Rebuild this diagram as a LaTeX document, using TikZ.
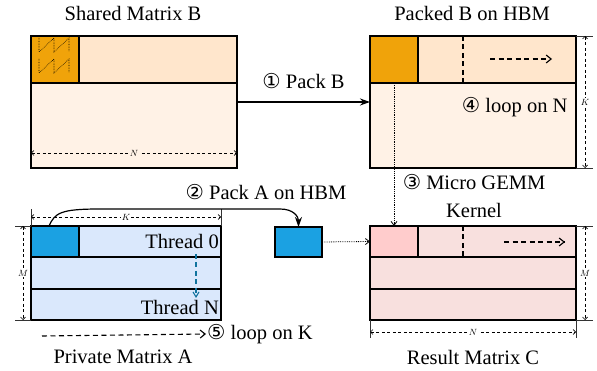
\documentclass[tikz,border=0pt]{standalone}
\usepackage{fontspec}
\setmainfont{Liberation Serif}
\newfontfamily\circfont{DejaVu Sans}
\usetikzlibrary{arrows.meta,positioning}
\newcommand{\cnum}[1]{{\circfont #1}}
\definecolor{orangeB}{HTML}{F0A30A}
\definecolor{peachB}{HTML}{FFE6CC}
\definecolor{creamB}{HTML}{FFF2E6}
\definecolor{blueA}{HTML}{1BA1E2}
\definecolor{paleA}{HTML}{DAE8FC}
\definecolor{pinkC}{HTML}{FFCCCC}
\definecolor{paleC}{HTML}{F8E0DE}
\definecolor{loopA}{HTML}{10739E}
\begin{document}
\begin{tikzpicture}[x=1pt, y=-1pt,
  every node/.style={font=\fontsize{20.5}{24}\selectfont},
  cell/.style={draw, line width=1.5pt, inner sep=0pt, outer sep=0pt, anchor=north west},
  dim/.style={dash pattern=on 3pt off 2.5pt, line width=0.7pt, {Straight Barb[length=2.5pt,width=5pt]}-{Straight Barb[length=2.5pt,width=5pt]}},
  dimlab/.style={font=\fontsize{9}{10}\selectfont, inner sep=1pt, fill=white},
  ext/.style={line width=0.6pt, black!80},
  loop/.style={dash pattern=on 5pt off 3.5pt, line width=1.1pt, -{Straight Barb[length=5pt,width=8pt]}},
  feed/.style={densely dotted, line width=0.8pt, -{Straight Barb[length=4pt,width=6pt]}}]
\useasboundingbox (0,0) rectangle (597,371);

% shared matrix B
\node (titleB) at (133,13) {Shared Matrix B};
\node[cell, fill=creamB, minimum width=206pt, minimum height=132pt] (matB) at (31,36) {};
\node[cell, fill=peachB, minimum width=206pt, minimum height=47pt] (stripB) at (31,36) {};
\node[cell, fill=orangeB, minimum width=48pt, minimum height=47pt] (blkB) at (31,36) {};
\draw[densely dotted, line width=0.6pt] (39,38) -- (39,52) -- (54,38) -- (54,52) -- (69,38) -- (69,52);
\draw[densely dotted, line width=0.6pt] (39,59) -- (39,73) -- (54,59) -- (54,73) -- (69,59) -- (69,73);
\draw[dim] (31,153) -- node[dimlab, fill=creamB] {$N$} (237,153);

% packed B
\node (titleP) at (472,13) {Packed B on HBM};
\node[cell, fill=creamB, minimum width=206pt, minimum height=132pt] (packB) at (370,36) {};
\node[cell, fill=peachB, minimum width=206pt, minimum height=47pt] (stripP) at (370,36) {};
\node[cell, fill=orangeB, minimum width=48pt, minimum height=47pt] (blkP) at (370,36) {};
\draw[dash pattern=on 5pt off 3.5pt, line width=1.1pt] (463,36) -- (463,83);
\draw[loop] (490,59) -- (552,59);
\node[anchor=east] (loopN) at (571,107) {\cnum{④} loop on N};
\draw[ext] (packB.north east) -- ++(17,0);
\draw[ext] (packB.south east) -- ++(17,0);
\draw[dim] (585,36) -- node[dimlab] {$K$} (585,168);

\draw[line width=1.2pt, -{Stealth[length=10pt,width=7pt]}] (matB.east) -- node[above=9pt] (packLab) {\cnum{①} Pack B} (packB.west);

% private matrix A
\node[cell, fill=paleA, minimum width=190pt, minimum height=31pt] (rowA1) at (31,226) {};
\node[cell, fill=paleA, minimum width=190pt, minimum height=32pt] (rowA2) at (31,257) {};
\node[cell, fill=paleA, minimum width=190pt, minimum height=31pt] (rowA3) at (31,289) {};
\node[cell, fill=blueA, minimum width=48pt, minimum height=31pt] (blkA) at (31,226) {};
\node[anchor=east, inner sep=2pt] (thr0) at (221,241) {Thread 0};
\node[anchor=east, inner sep=2pt] (thrN) at (221,307) {Thread N};
\draw[dash pattern=on 5pt off 3.5pt, line width=1.1pt, loopA, -{Straight Barb[length=5pt,width=6pt]}] (196,254) -- (196,298);
\draw[ext] (rowA1.north west) -- ++(0,-17);
\draw[ext] (rowA1.north east) -- ++(0,-17);
\draw[dim] (31,217) -- node[dimlab] {$K$} (221,217);
\draw[ext] (rowA1.north west) -- ++(-16,0);
\draw[ext] (rowA3.south west) -- ++(-16,0);
\draw[dim] (23,226) -- node[dimlab] {$M$} (23,320);
\node (titleA) at (123,357) {Private Matrix A};
\node[anchor=west, inner xsep=1pt] (loopK) at (206,334) {\cnum{⑤} loop on K};
\draw[loop] (42,336) -- (loopK.west);

% packed A on HBM
\node[cell, fill=blueA, minimum width=47pt, minimum height=30pt] (hbmA) at (275,227) {};
\node (packALab) at (266,192) {\cnum{②} Pack A on HBM};
\draw[line width=1.2pt, -{Stealth[length=10pt,width=7pt]}] ([xshift=-6pt]blkA.north) .. controls +(6,-13) and +(-40,0) .. (100,209) -- (280,209) .. controls +(14,0) and +(0,-10) .. (hbmA.north);

% result matrix C
\node[cell, fill=paleC, minimum width=206pt, minimum height=31pt] (rowC1) at (370,226) {};
\node[cell, fill=paleC, minimum width=206pt, minimum height=32pt] (rowC2) at (370,257) {};
\node[cell, fill=paleC, minimum width=206pt, minimum height=31pt] (rowC3) at (370,289) {};
\node[cell, fill=pinkC, minimum width=48pt, minimum height=31pt] (blkC) at (370,226) {};
\draw[dash pattern=on 5pt off 3.5pt, line width=1.1pt] (463,226) -- (463,257);
\draw[loop] (504,242) -- (565,242);
\draw[ext] (rowC1.north east) -- ++(17,0);
\draw[ext] (rowC3.south east) -- ++(17,0);
\draw[dim] (585,226) -- node[dimlab] {$M$} (585,320);
\draw[ext] (rowC3.south west) -- ++(0,18);
\draw[ext] (rowC3.south east) -- ++(0,18);
\draw[dim] (370,332) -- node[dimlab] {$N$} (576,332);
\node (titleC) at (473,357) {Result Matrix C};

\node[align=center, font=\fontsize{20.5}{28}\selectfont] (gemm) at (474,196) {\cnum{③} Micro GEMM\\Kernel};
\draw[feed] (blkP.south) -- (blkC.north);
\draw[feed] (hbmA.east) -- (blkC.west);
\end{tikzpicture}
\end{document}
